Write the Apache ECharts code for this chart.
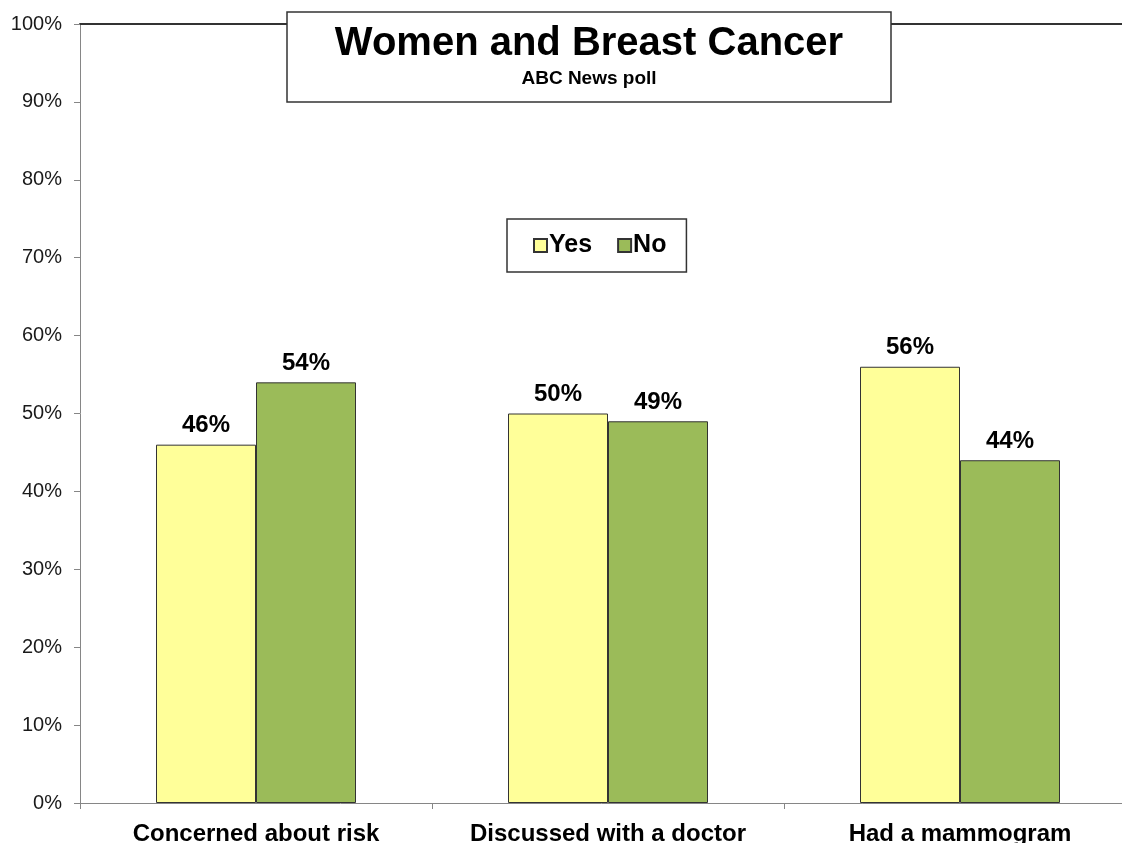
<!DOCTYPE html>
<html>
<head>
<meta charset="utf-8">
<title>Women and Breast Cancer</title>
<script src="https://cdn.jsdelivr.net/npm/echarts@6/dist/echarts.min.js"></script>
<style>
  html, body { margin: 0; padding: 0; background: #fff; }
  #chart { width: 1122px; height: 843px; }
</style>
</head>
<body>
<div id="chart"></div>
<script>
// data
var categories = ["Concerned about risk", "Discussed with a doctor", "Had a mammogram"];
var yesValues = [46, 50, 56];
var noValues = [54, 49, 44];
var seriesNames = ["Yes", "No"];

var font = 'Arial, "Liberation Sans", sans-serif';
var chart = echarts.init(document.getElementById("chart"));

function barLabel() {
  return {
    show: true,
    position: "top",
    distance: 7,
    formatter: "{c}%",
    color: "#000",
    fontFamily: font,
    fontWeight: "bold",
    fontSize: 24
  };
}

var option = {
  backgroundColor: "#fff",
  animation: false,
  title: {
    text: "Women and Breast Cancer",
    subtext: "ABC News poll",
    left: 541,
    top: 12,
    textAlign: "center",
    itemGap: 5,
    padding: [12, 48, 14, 48],
    backgroundColor: "#fff",
    borderColor: "#333",
    borderWidth: 1.5,
    z: 10,
    textStyle: { fontFamily: font, fontWeight: "bold", fontSize: 40, color: "#000" },
    subtextStyle: { fontFamily: font, fontWeight: "bold", fontSize: 19, color: "#000" }
  },
  legend: {
    data: seriesNames,
    left: 507,
    top: 219,
    orient: "horizontal",
    padding: [14, 20, 14, 26],
    itemGap: 25,
    itemWidth: 13,
    itemHeight: 13,
    icon: "rect",
    backgroundColor: "#fff",
    borderColor: "#333",
    borderWidth: 1.5,
    textStyle: { fontFamily: font, fontWeight: "bold", fontSize: 25, color: "#000", padding: [0, 0, 0, -3] }
  },
  grid: { left: 80, top: 24, width: 1056, height: 779, outerBoundsMode: "none", containLabel: false },
  xAxis: [
    {
      type: "category",
      data: categories,
      axisLine: { show: true, lineStyle: { color: "#868686", width: 1 } },
      axisTick: { show: true, length: 6, alignWithLabel: false, lineStyle: { color: "#868686" } },
      axisLabel: { margin: 19, color: "#000", fontFamily: font, fontWeight: "bold", fontSize: 24, interval: 0 }
    },
    {
      type: "category",
      position: "top",
      data: categories,
      axisLine: { show: true, lineStyle: { color: "#333", width: 2 } },
      axisTick: { show: false },
      axisLabel: { show: false }
    }
  ],
  yAxis: {
    type: "value",
    min: 0,
    max: 100,
    interval: 10,
    axisLine: { show: true, lineStyle: { color: "#868686", width: 1 } },
    axisTick: { show: true, length: 6, lineStyle: { color: "#868686" } },
    splitLine: { show: false },
    axisLabel: { formatter: "{value}%", margin: 18, color: "#1a1a1a", fontFamily: font, fontSize: 20 }
  },
  series: [
    {
      name: seriesNames[0],
      type: "bar",
      data: yesValues,
      barWidth: 100,
      barGap: "0%",
      itemStyle: { color: "#FFFF99", borderColor: "#333", borderWidth: 1 },
      label: barLabel()
    },
    {
      name: seriesNames[1],
      type: "bar",
      data: noValues,
      barWidth: 100,
      barGap: "0%",
      itemStyle: { color: "#9BBB59", borderColor: "#333", borderWidth: 1 },
      label: barLabel()
    }
  ]
};

chart.setOption(option);
</script>
</body>
</html>
